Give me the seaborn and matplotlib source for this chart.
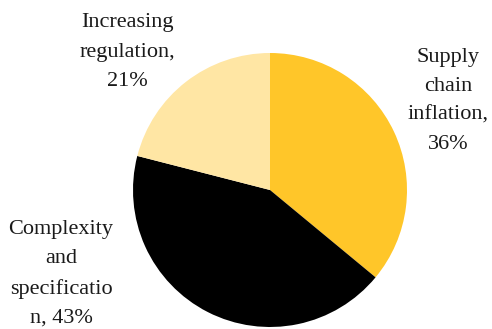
import matplotlib
matplotlib.use("Agg")
import matplotlib.pyplot as plt
import seaborn as sns

categories = ["Supply chain inflation", "Complexity and specification", "Increasing regulation"]
values = [36, 43, 21]
label_templates = ["Supply\nchain\ninflation,\n{}%", "Complexity\nand\nspecificatio\nn, {}%", "Increasing\nregulation,\n{}%"]
colors = ["#FFC629", "#000000", "#FFE6A4"]

sns.set_theme(style="white")
plt.rcParams["font.family"] = ["Liberation Serif", "DejaVu Serif"]

W, H = 492, 329
fig = plt.figure(figsize=(W / 100, H / 100), dpi=100)
ax = fig.add_axes([0, 0, 1, 1])
palette = sns.color_palette(colors)
ax.pie(values, colors=palette, startangle=90, counterclock=False,
       center=(270, H - 190), radius=137,
       wedgeprops=dict(linewidth=0))
ax.set_xlim(0, W)
ax.set_ylim(0, H)
ax.set_aspect("equal")
ax.axis("off")

label_pos = [(448, H - 101), (61, H - 274), (127, H - 52)]
for tmpl, v, (x, y) in zip(label_templates, values, label_pos):
    ax.text(x, y, tmpl.format(v),
            ha="center", va="center", multialignment="center",
            fontsize=16, color="#1a1a1a", linespacing=1.72)

fig.savefig("out.png", dpi=100)
